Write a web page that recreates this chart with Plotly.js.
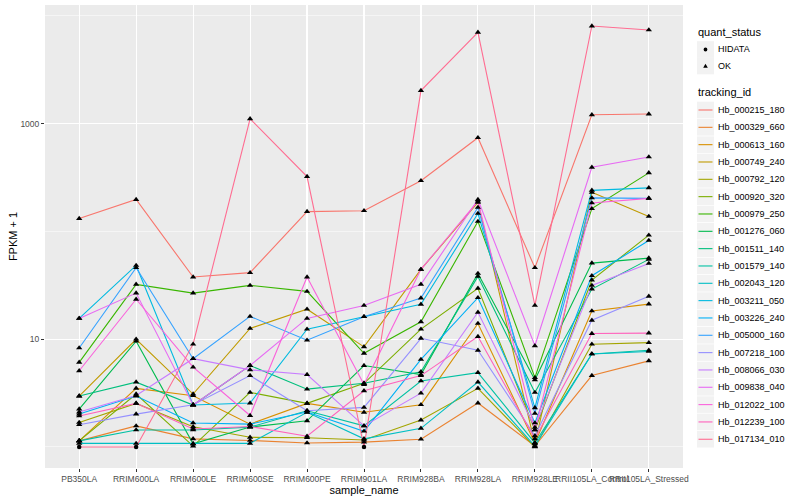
<!DOCTYPE html>
<html><head><meta charset="utf-8">
<script src="https://cdn.plot.ly/plotly-3.0.1.min.js"></script>
<style>html,body{margin:0;padding:0;background:#fff}</style>
</head><body><div id="chart" style="width:800px;height:500px"></div>
<script>
// ---- data ----
const sampleNames = ["PB350LA","RRIM600LA","RRIM600LE","RRIM600SE","RRIM600PE","RRIM901LA","RRIM928BA","RRIM928LA","RRIM928LE","RRII105LA_Control","RRII105LA_Stressed"];
const trackingIds = ["Hb_000215_180","Hb_000329_660","Hb_000613_160","Hb_000749_240","Hb_000792_120","Hb_000920_320","Hb_000979_250","Hb_001276_060","Hb_001511_140","Hb_001579_140","Hb_002043_120","Hb_003211_050","Hb_003226_240","Hb_005000_160","Hb_007218_100","Hb_008066_030","Hb_009838_040","Hb_012022_100","Hb_012239_100","Hb_017134_010"];
const seriesColors = ["#F8766D","#EA8331","#D89000","#C09B00","#A3A500","#7CAE00","#39B600","#00BB4E","#00BF7D","#00C1A3","#00BFC4","#00BAE0","#00B0F6","#35A2FF","#9590FF","#C77CFF","#E76BF3","#FA62DB","#FF62BC","#FF6C91"];

const fpkm_000215_180 = [132, 198, 37.8, 41.5, 153, 156, 296, 742, 46.1, 1211, 1230];
const fpkm_000329_660 = [1.14, 1.57, 1.19, 1.15, 1.09, 1.11, 1.18, 2.56, 1.02, 4.6, 6.3];
const fpkm_000613_160 = [1.14, 3.5, 2.99, 1.63, 2.54, 2.10, 2.47, 14.0, 1.09, 18.3, 21.2];
const fpkm_000749_240 = [2.97, 10.0, 3.10, 12.6, 19.0, 8.5, 44.5, 186, 1.07, 231, 138];
const fpkm_000792_120 = [1.69, 2.54, 1.54, 1.23, 1.22, 1.16, 1.78, 3.5, 1.0, 9.0, 9.3];
const fpkm_000920_320 = [1.14, 3.10, 1.02, 3.21, 2.54, 3.9, 12.4, 29.7, 1.44, 35.4, 92.5];
const fpkm_000979_250 = [6.1, 32.3, 26.8, 31.6, 27.8, 7.4, 14.5, 124, 4.4, 163, 350];
const fpkm_001276_060 = [2.25, 9.6, 1.07, 1.53, 1.75, 5.7, 4.7, 40.8, 4.2, 50.9, 56.6];
const fpkm_001511_140 = [2.97, 4.0, 2.45, 5.7, 3.44, 3.9, 5.0, 38.3, 3.21, 29.2, 55.1];
const fpkm_001579_140 = [1.14, 1.44, 1.44, 1.53, 2.17, 1.57, 4.1, 4.9, 1.09, 7.3, 7.9];
const fpkm_002043_120 = [1.08, 1.08, 1.07, 1.08, 2.10, 1.19, 1.49, 4.0, 1.02, 7.3, 7.7];
const fpkm_003211_050 = [15.6, 48.4, 2.45, 2.56, 12.4, 16.2, 21.1, 147, 2.31, 241, 254];
const fpkm_003226_240 = [2.02, 2.97, 1.67, 1.63, 2.11, 1.40, 6.5, 24.3, 1.67, 38.9, 82.6];
const fpkm_005000_160 = [8.3, 46.1, 6.6, 16.3, 9.8, 16.2, 24.1, 167, 2.05, 205, 203];
const fpkm_007218_100 = [1.61, 2.02, 2.47, 4.6, 2.17, 2.33, 10.2, 7.9, 1.27, 15.0, 25.0];
const fpkm_008066_030 = [2.11, 3.0, 6.6, 5.2, 4.7, 1.57, 3.16, 17.8, 1.52, 31.6, 50.5];
const fpkm_009838_040 = [15.6, 26.8, 2.45, 5.7, 15.6, 20.6, 32.3, 198, 8.7, 394, 492];
const fpkm_012022_100 = [5.1, 23.5, 5.5, 1.96, 37.8, 3.8, 44.5, 191, 1.44, 184, 203];
const fpkm_012239_100 = [1.94, 2.54, 1.47, 1.55, 1.26, 3.32, 4.6, 10.6, 1.19, 11.3, 11.4];
const fpkm_017134_010 = [1.0, 1.0, 9.0, 1112, 323, 1.0, 2033, 7060, 20.6, 8075, 7420];

const seriesValues = [fpkm_000215_180, fpkm_000329_660, fpkm_000613_160, fpkm_000749_240, fpkm_000792_120, fpkm_000920_320, fpkm_000979_250, fpkm_001276_060, fpkm_001511_140, fpkm_001579_140, fpkm_002043_120, fpkm_003211_050, fpkm_003226_240, fpkm_005000_160, fpkm_007218_100, fpkm_008066_030, fpkm_009838_040, fpkm_012022_100, fpkm_012239_100, fpkm_017134_010];

// points whose quant_status is HIDATA (all others OK)
const hidataPoints = [["Hb_017134_010","PB350LA"],["Hb_017134_010","RRIM600LA"],["Hb_017134_010","RRIM901LA"]];
const statusLevels = ["HIDATA","OK"];

// ---- traces ----
const FONT = "Liberation Sans, Arial, Helvetica, sans-serif";
const traces = [];
trackingIds.forEach((id, i) => {
  traces.push({x: sampleNames, y: seriesValues[i], type: "scatter", mode: "lines",
    line: {color: seriesColors[i], width: 1.1}, name: id, showlegend: false, hoverinfo: "skip"});
});
const isHi = (id, s) => hidataPoints.some(p => p[0] === id && p[1] === s);
const okX = [], okY = [], hiX = [], hiY = [];
trackingIds.forEach((id, i) => {
  sampleNames.forEach((s, j) => {
    if (isHi(id, s)) { hiX.push(s); hiY.push(seriesValues[i][j]); }
    else { okX.push(s); okY.push(seriesValues[i][j]); }
  });
});
traces.push({x: okX, y: okY, type: "scatter", mode: "markers", name: "OK", showlegend: false,
  marker: {symbol: "triangle-up", size: 5.5, color: "#000"}});
traces.push({x: hiX, y: hiY, type: "scatter", mode: "markers", name: "HIDATA", showlegend: false,
  marker: {symbol: "circle", size: 4.5, color: "#000"}});

// ---- manual ggplot-like legend ----
const L = 45, R = 683, T = 5, B = 468;
const W = R - L, H = B - T;
const px = v => (v - L) / W;
const py = v => (B - v) / H;
const shapes = [], annotations = [];
function keyBox(cy) {
  shapes.push({type: "rect", xref: "paper", yref: "paper", x0: px(697), x1: px(714), y0: py(cy - 8.3), y1: py(cy + 8.3),
    fillcolor: "#F2F2F2", line: {width: 0}, layer: "above"});
}
function label(text, x, y, size) {
  annotations.push({text: text, xref: "paper", yref: "paper", x: px(x), y: py(y), xanchor: "left", yanchor: "middle",
    showarrow: false, font: {family: FONT, size: size, color: "#000"}});
}
label("quant_status", 695.5, 32.5, 11);
const qsY = [49.5, 66];
statusLevels.forEach((s, k) => {
  const cy = qsY[k];
  keyBox(cy);
  if (s === "HIDATA") {
    shapes.push({type: "circle", xref: "paper", yref: "paper", x0: px(703.6), x1: px(707.4), y0: py(cy + 1.9), y1: py(cy - 1.9),
      fillcolor: "#000", line: {width: 0}, layer: "above"});
  } else {
    shapes.push({type: "path", xref: "paper", yref: "paper",
      path: `M ${px(705.5)} ${py(cy - 2.3)} L ${px(707.8)} ${py(cy + 1.7)} L ${px(703.2)} ${py(cy + 1.7)} Z`,
      fillcolor: "#000", line: {width: 0}, layer: "above"});
  }
  label(s, 716, cy, 9);
});
label("tracking_id", 695.5, 92.5, 11);
trackingIds.forEach((id, i) => {
  const cy = 110 + i * 17.33;
  keyBox(cy);
  shapes.push({type: "line", xref: "paper", yref: "paper", x0: px(698.5), x1: px(712.5), y0: py(cy), y1: py(cy),
    line: {color: seriesColors[i], width: 1.1}, layer: "above"});
  label(id, 716, cy, 9);
});

const layout = {
  width: 800, height: 500,
  margin: {l: L, r: 800 - R, t: T, b: 500 - B, pad: 0},
  paper_bgcolor: "#FFFFFF", plot_bgcolor: "#EBEBEB",
  font: {family: FONT, color: "#000"},
  showlegend: false,
  xaxis: {type: "category", categoryorder: "array", categoryarray: sampleNames, range: [-0.6, 10.6],
    showgrid: true, gridcolor: "#FFFFFF", gridwidth: 1.1, zeroline: false, showline: false,
    ticks: "outside", ticklen: 3, tickwidth: 1, tickcolor: "#333333",
    tickfont: {family: FONT, size: 8.5, color: "#4D4D4D"}, tickangle: 0,
    title: {text: "sample_name", font: {family: FONT, size: 11, color: "#000"}, standoff: 1}},
  yaxis: {type: "log", range: [-0.195, 4.102], tickmode: "array", tickvals: [10, 1000], ticktext: ["10", "1000"],
    showgrid: true, gridcolor: "#FFFFFF", gridwidth: 1.1, zeroline: false, showline: false,
    ticks: "outside", ticklen: 3, tickwidth: 1, tickcolor: "#333333",
    tickfont: {family: FONT, size: 8.5, color: "#4D4D4D"},
    minor: {tickmode: "array", tickvals: [1, 100, 10000], showgrid: true, gridcolor: "#FFFFFF", gridwidth: 0.5, ticks: ""},
    title: {text: "FPKM + 1", font: {family: FONT, size: 11, color: "#000"}, standoff: 0}},
  shapes: shapes, annotations: annotations
};
Plotly.newPlot("chart", traces, layout, {staticPlot: true, displayModeBar: false});
</script></body></html>
